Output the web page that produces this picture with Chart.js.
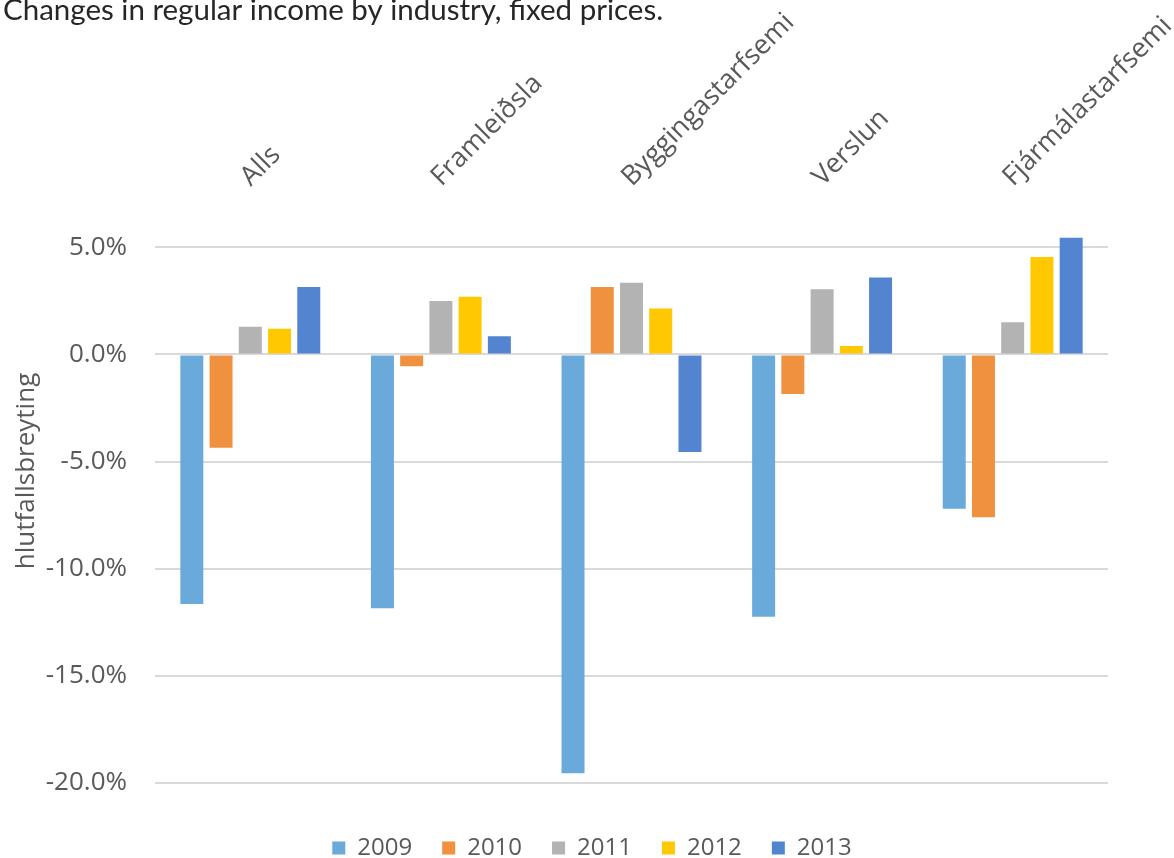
<!DOCTYPE html>
<html>
<head>
<meta charset="utf-8">
<script src="https://cdn.jsdelivr.net/npm/chart.js@4/dist/chart.umd.min.js"></script>
<style>
    html, body { margin: 0; padding: 0; background: #fff; }
    .wrap { width: 1174px; height: 858px; position: relative; }
</style>
</head>
<body>
<div class="wrap"><canvas id="chart"></canvas></div>
<script>
const industries = ["Alls", "Framleiðsla", "Byggingastarfsemi", "Verslun", "Fjármálastarfsemi"];
const years = ["2009", "2010", "2011", "2012", "2013"];
const v2009 = [-11.65, -11.85, -19.55, -12.25, -7.2];
const v2010 = [-4.35, -0.55, 3.15, -1.85, -7.6];
const v2011 = [1.3, 2.5, 3.35, 3.05, 1.5];
const v2012 = [1.2, 2.7, 2.15, 0.4, 4.55];
const v2013 = [3.15, 0.85, -4.55, 3.6, 5.45];
const yTicks = [-20, -15, -10, -5, 0, 5];

const colors = ["#6aaada", "#f0913f", "#b3b3b3", "#ffc800", "#5284cf"];
const gray = "#595959";

// title and y axis title drawn at fixed spots, they don't take layout space
const extraText = {
    id: "extraText",
    afterLayout(c) {
        // legend sits a bit right of centre in the original
        c.legend.left += 38;
        c.legend.right += 38;
    },
    afterDraw(c) {
        const ctx = c.ctx;
        ctx.save();
        ctx.fillStyle = "#262626";
        ctx.font = "29.5px Lato";
        ctx.textBaseline = "alphabetic";
        ctx.textAlign = "left";
        ctx.fillText("Changes in regular income by industry, fixed prices.", 3, 20);
        ctx.translate(27, 471);
        ctx.rotate(-Math.PI / 2);
        ctx.fillStyle = gray;
        ctx.font = "26px 'Open Sans'";
        ctx.textAlign = "center";
        ctx.textBaseline = "middle";
        ctx.fillText("hlutfallsbreyting", 0, 0);
        ctx.restore();
    }
};

const sets = [v2009, v2010, v2011, v2012, v2013].map((d, i) => ({
    label: years[i],
    data: d,
    backgroundColor: colors[i],
    categoryPercentage: 0.767,
    barPercentage: 0.786
}));

new Chart(document.getElementById("chart").getContext("2d"), {
    type: "bar",
    data: { labels: industries, datasets: sets },
    plugins: [extraText],
    options: {
        responsive: true,
        maintainAspectRatio: false,
        animation: false,
        layout: { padding: { left: 0, right: 66, top: 0, bottom: -12 } },
        plugins: {
            legend: {
                position: "bottom",
                title: { display: true, text: "", font: { size: 1 }, padding: { top: 22, bottom: 0 } },
                labels: {
                    color: gray,
                    font: { size: 24, family: "'Open Sans'" },
                    boxWidth: 13,
                    boxHeight: 13,
                    padding: 30
                }
            },
            tooltip: { enabled: false }
        },
        scales: {
            x: {
                position: "top",
                grid: { display: false, drawTicks: false },
                border: { display: false },
                ticks: {
                    color: gray,
                    font: { size: 27, family: "'Open Sans'" },
                    minRotation: 45,
                    maxRotation: 45,
                    padding: 33,
                    labelOffset: 18
                },
                afterFit: s => {
                    s.height = 226;
                    // let the last label run off the edge like the original
                    s.paddingLeft = 0;
                    s.paddingRight = 0;
                }
            },
            y: {
                min: -20,
                max: 6,
                grid: { color: "#d9d9d9", lineWidth: 2, drawTicks: false },
                border: { display: false },
                ticks: {
                    color: gray,
                    font: { size: 26, family: "'Open Sans'" },
                    padding: 28,
                    callback: v => v.toFixed(1) + "%"
                },
                afterBuildTicks: s => { s.ticks = yTicks.map(v => ({ value: v })); },
                afterFit: s => { s.width = 155; }
            }
        }
    }
});
</script>
</body>
</html>
